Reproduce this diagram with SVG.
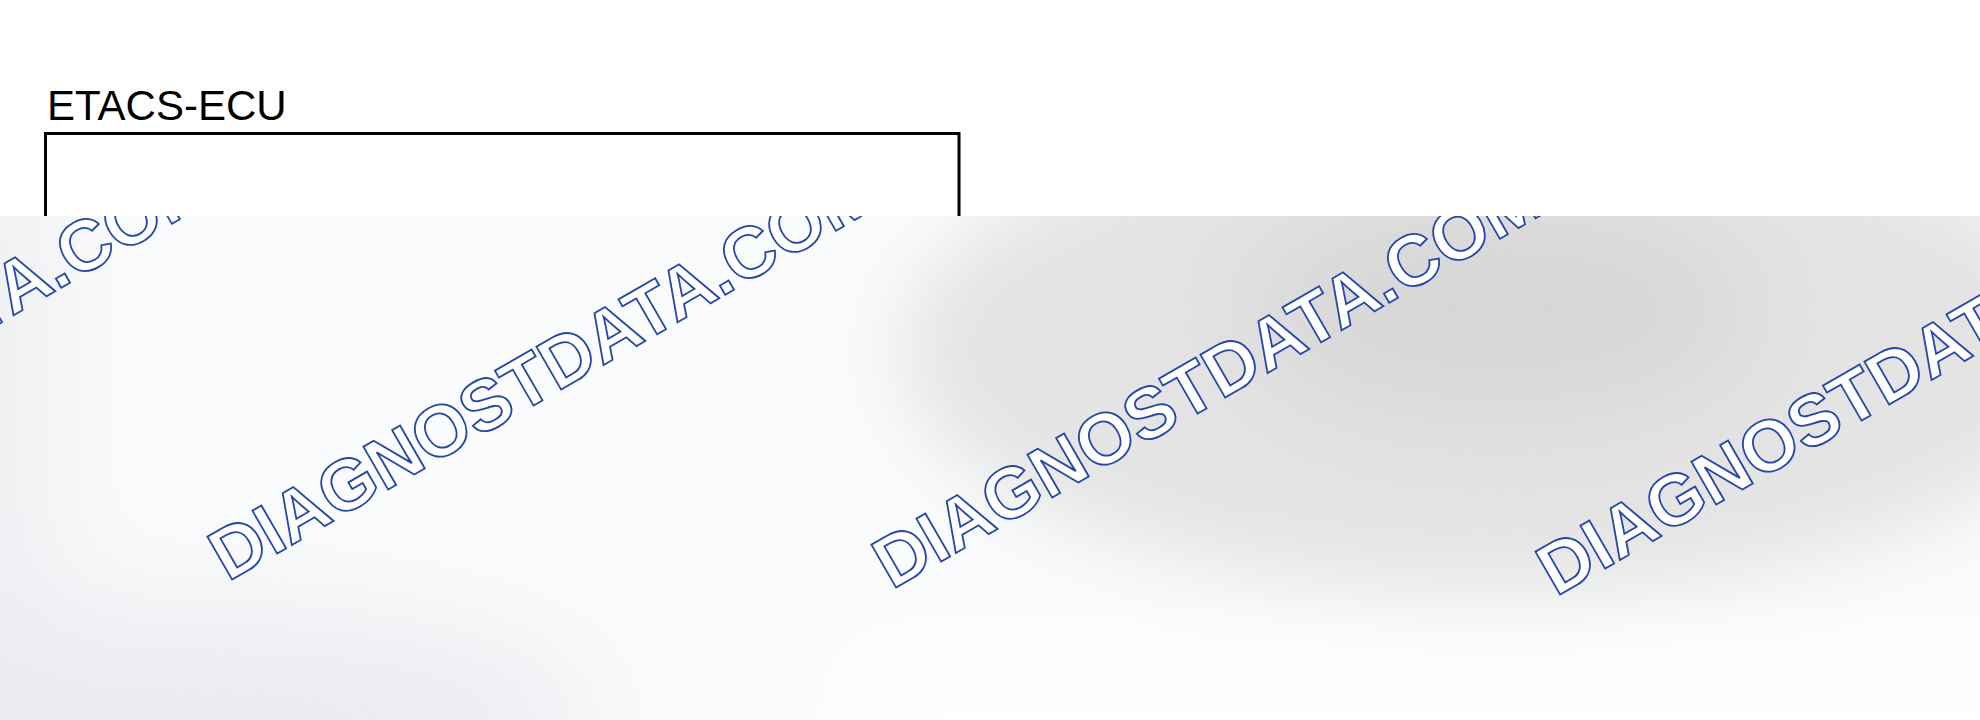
<svg xmlns="http://www.w3.org/2000/svg" width="1980" height="720" viewBox="0 0 1980 720">
  <style>
    .lbl { font-family: "Liberation Sans", Arial, sans-serif; font-size: 42px; fill: #000; }
    .box { fill: #fff; stroke: #000; stroke-width: 3; }
    .wm { font-family: "Liberation Sans", Arial, sans-serif; font-weight: bold; font-size: 72px; fill: #fff; stroke: #2446a6; stroke-width: 1.8; }
  </style>
  <defs>
    <clipPath id="bandClip"><rect x="0" y="216" width="1980" height="504"/></clipPath>
    <filter id="blur60" x="-50%" y="-50%" width="200%" height="200%"><feGaussianBlur stdDeviation="60"/></filter>
    <filter id="blur40" x="-50%" y="-50%" width="200%" height="200%"><feGaussianBlur stdDeviation="40"/></filter>
  </defs>
  <rect x="0" y="0" width="1980" height="720" fill="#fff"/>
  <g id="etacs-ecu">
    <text class="lbl" x="47" y="120">ETACS-ECU</text>
    <rect class="box" x="45.5" y="133.5" width="913.5" height="200"/>
  </g>
  <g id="connectors"/>
  <g id="band" clip-path="url(#bandClip)">
    <rect x="0" y="216" width="1980" height="504" fill="#fafbfc"/>
    <g filter="url(#blur60)">
      <rect x="-120" y="150" width="170" height="650" fill="#eceef1"/>
      <ellipse cx="180" cy="720" rx="420" ry="110" fill="#e9ebef"/>
    </g>
    <ellipse cx="1500" cy="350" rx="600" ry="245" fill="#e4e4e4" filter="url(#blur40)"/>
    <ellipse cx="1500" cy="310" rx="260" ry="110" fill="#d6d6d6" filter="url(#blur60)"/>
    <rect x="860" y="660" width="1200" height="120" fill="#ffffff" filter="url(#blur40)"/>
    <g id="watermarks">
      <text class="wm" transform="translate(-436,575) rotate(-30)">DIAGNOSTDATA.COM</text>
      <text class="wm" transform="translate(228,582) rotate(-30)">DIAGNOSTDATA.COM</text>
      <text class="wm" transform="translate(892,590) rotate(-30)">DIAGNOSTDATA.COM</text>
      <text class="wm" transform="translate(1556,597) rotate(-30)">DIAGNOSTDATA.COM</text>
    </g>
  </g>
</svg>
